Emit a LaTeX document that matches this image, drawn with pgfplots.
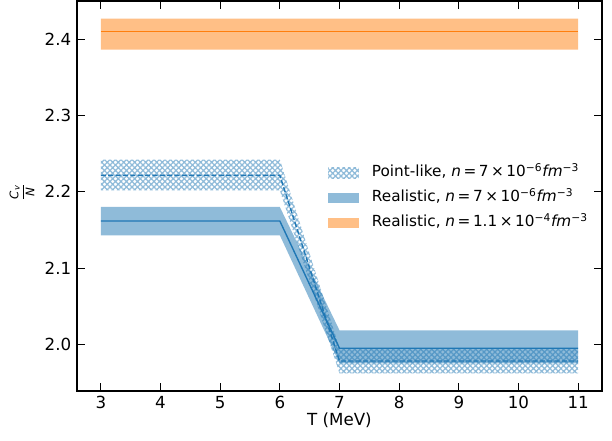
\documentclass[border=0pt,12pt]{standalone}
\usepackage{amsmath}
\usepackage{fontspec}
\setmainfont{DejaVu Sans}
\usepackage{pgfplots}
\pgfplotsset{compat=1.18}
\usetikzlibrary{patterns.meta}
\definecolor{tabblue}{HTML}{1F77B4}
\definecolor{taborange}{HTML}{FF7F0E}
\colorlet{hatchblue}{tabblue!50!white}
\pgfplotsset{myarea/.style={legend image code/.code={\path[##1] (0pt,-3.85pt) rectangle (22pt,3.85pt);}}}
\begin{document}
\begin{tikzpicture}
\begin{axis}[
  at={(0,0)}, anchor=south west,
  scale only axis, width=378pt, height=280.8pt,
  xmin=2.6, xmax=11.4, ymin=1.9388, ymax=2.4502,
  xtick={3,4,5,6,7,8,9,10,11},
  ytick={2.0,2.1,2.2,2.3,2.4},
  yticklabel style={/pgf/number format/.cd, fixed, fixed zerofill, precision=1},
  /pgf/number format/assume math mode=true,
  tick align=inside,
  major tick length=6pt,
  tick style={black, line width=0.8pt},
  axis line style={black, line width=0.8pt},
  tick label style={font=\fontsize{12}{14}\selectfont},
  xticklabel style={anchor=base, yshift=-12.24pt},
  xlabel={T (MeV)},
  xlabel style={at={(axis description cs:0.5,-0.0872)}, anchor=base, font=\fontsize{12}{14}\selectfont},
  ylabel={$\displaystyle\frac{\textit{C}_{\textit{v}}}{\textit{N}}$},
  ylabel style={at={(axis description cs:-0.1048,0.51)}, anchor=center, font=\fontsize{8.5}{10}\selectfont},
  legend cell align=left,
  legend style={at={(1,0.5)}, anchor=east, xshift=-10pt, yshift=-1.5pt, draw=none, fill=none,
    inner sep=0pt, row sep=6.5pt, column sep=9.5pt,
    font=\fontsize{11}{13}\selectfont,
    nodes={inner sep=0pt, text height=8.5pt, text depth=3pt}},
]
% Point-like band (hatched)
\addplot[draw=none, pattern={Hatch[angle=45,distance=2.8pt,line width=0.8pt]}, pattern color=hatchblue, myarea]
  coordinates {(3,2.2422)(4,2.2422)(5,2.2422)(6,2.2422)(7,1.9950)(8,1.9950)(9,1.9950)(10,1.9950)(11,1.9950)
               (11,1.9620)(10,1.9620)(9,1.9620)(8,1.9620)(7,1.9620)(6,2.2020)(5,2.2020)(4,2.2020)(3,2.2020)} -- cycle;
\addlegendentry{Point-like, \textit{n}\,=\,7\,×\,10\textsuperscript{−6}\textit{fm}\textsuperscript{−3}}
% Realistic low density band
\addplot[draw=none, fill=tabblue, fill opacity=0.5, myarea]
  coordinates {(3,2.1801)(4,2.1801)(5,2.1801)(6,2.1801)(7,2.0184)(8,2.0184)(9,2.0184)(10,2.0184)(11,2.0184)
               (11,1.9751)(10,1.9751)(9,1.9751)(8,1.9751)(7,1.9751)(6,2.1430)(5,2.1430)(4,2.1430)(3,2.1430)} -- cycle;
\addlegendentry{Realistic, \textit{n}\,=\,7\,×\,10\textsuperscript{−6}\textit{fm}\textsuperscript{−3}}
% Realistic high density band
\addplot[draw=none, fill=taborange, fill opacity=0.5, myarea]
  coordinates {(3,2.4272)(4,2.4272)(5,2.4272)(6,2.4272)(7,2.4272)(8,2.4272)(9,2.4272)(10,2.4272)(11,2.4272)
               (11,2.3865)(10,2.3865)(9,2.3865)(8,2.3865)(7,2.3865)(6,2.3865)(5,2.3865)(4,2.3865)(3,2.3865)} -- cycle;
\addlegendentry{Realistic, \textit{n}\,=\,1.1\,×\,10\textsuperscript{−4}\textit{fm}\textsuperscript{−3}}
% central lines
\addplot[forget plot, tabblue, line width=1pt, dash pattern=on 3.7pt off 1.6pt]
  coordinates {(3,2.2215)(4,2.2215)(5,2.2215)(6,2.2215)(7,1.9781)(8,1.9781)(9,1.9781)(10,1.9781)(11,1.9781)};
\addplot[forget plot, tabblue, line width=1pt]
  coordinates {(3,2.1617)(4,2.1617)(5,2.1617)(6,2.1617)(7,1.9948)(8,1.9948)(9,1.9948)(10,1.9948)(11,1.9948)};
\addplot[forget plot, taborange, line width=1pt]
  coordinates {(3,2.4101)(4,2.4101)(5,2.4101)(6,2.4101)(7,2.4101)(8,2.4101)(9,2.4101)(10,2.4101)(11,2.4101)};
\end{axis}
\pgfresetboundingbox
\path[use as bounding box] (-55.44pt,-35.28pt) rectangle (385.2pt,281.52pt);
\end{tikzpicture}
\end{document}
